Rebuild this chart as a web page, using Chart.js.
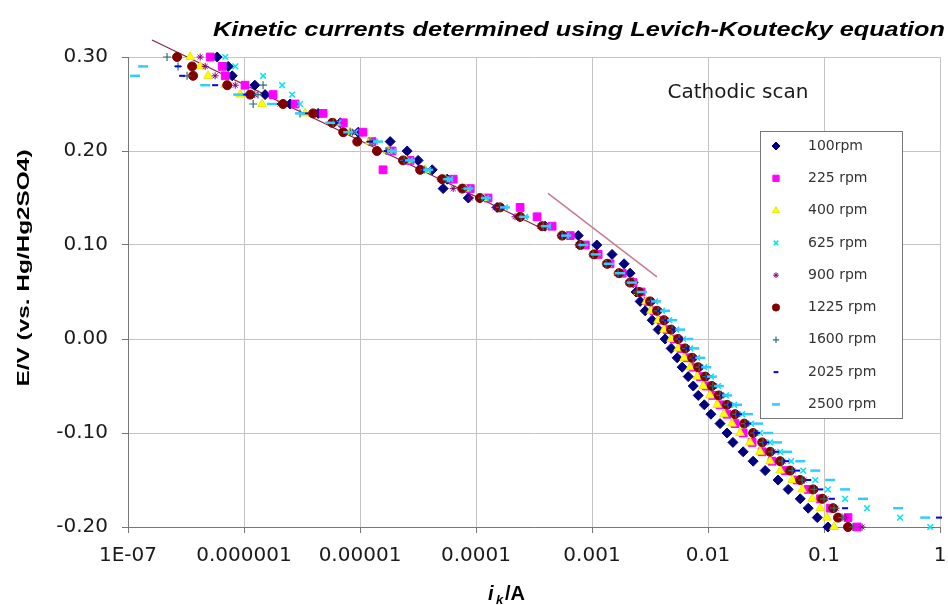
<!DOCTYPE html>
<html><head><meta charset="utf-8">
<script src="https://cdn.jsdelivr.net/npm/chart.js@4.4.1/dist/chart.umd.min.js"></script>
<style>html,body{margin:0;padding:0;background:#fff;}#wrap{width:948px;height:605px;}</style>
</head><body>
<div id="wrap"><canvas id="c" width="948" height="605" style="width:948px;height:605px"></canvas></div>
<script>
// ---- data ----
const potentials = [0.30,0.29,0.28,0.27,0.26,0.25,0.24,0.23,0.22,0.21,0.20,0.19,0.18,0.17,0.16,0.15,0.14,0.13,0.12,0.11,0.10,0.09,0.08,0.07,0.06,0.05,
  0.04,0.03,0.02,0.01,0.00,-0.01,-0.02,-0.03,-0.04,-0.05,-0.06,-0.07,-0.08,-0.09,-0.10,-0.11,-0.12,-0.13,-0.14,-0.15,-0.16,-0.17,-0.18,-0.19,-0.20];

const rpm100 = [5.87e-7,7.31e-7,7.92e-7,1.24e-6,1.52e-6,2.50e-6,4.36e-6,6.75e-6,9.66e-6,1.82e-5,2.55e-5,3.17e-5,4.19e-5,5.64e-5,5.21e-5,8.58e-5,1.52e-4,2.40e-4,3.94e-4,7.61e-4,1.10e-3,1.49e-3,1.89e-3,2.13e-3,2.26e-3,2.40e-3,
  2.60e-3,2.87e-3,3.30e-3,3.72e-3,4.27e-3,4.81e-3,5.42e-3,5.99e-3,6.75e-3,7.46e-3,8.24e-3,9.29e-3,1.06e-2,1.27e-2,1.46e-2,1.64e-2,2.01e-2,2.45e-2,3.11e-2,4.02e-2,4.91e-2,6.24e-2,7.31e-2,8.75e-2,1.08e-1];
const rpm225 = [5.11e-7,6.49e-7,6.89e-7,1.02e-6,1.78e-6,2.76e-6,4.81e-6,7.17e-6,1.06e-5,1.27e-5,1.89e-5,2.70e-5,1.58e-5,6.36e-5,8.92e-5,1.27e-4,2.40e-4,3.36e-4,4.53e-4,6.49e-4,8.75e-4,1.13e-3,1.43e-3,1.82e-3,2.26e-3,2.65e-3,
  3.04e-3,3.43e-3,3.94e-3,4.44e-3,5.11e-3,5.87e-3,6.62e-3,7.46e-3,8.58e-3,9.66e-3,1.10e-2,1.27e-2,1.46e-2,1.71e-2,2.01e-2,2.40e-2,2.93e-2,3.57e-2,4.63e-2,5.87e-2,7.31e-2,9.29e-2,1.13e-1,1.61e-1,1.93e-1];
const rpm400 = [3.43e-7,4.19e-7,4.91e-7,6.89e-7,9.29e-7,1.43e-6,3.36e-6,6.11e-6,8.24e-6,1.22e-5,1.74e-5,2.50e-5,3.64e-5,5.42e-5,8.08e-5,1.15e-4,1.61e-4,2.40e-4,3.79e-4,5.53e-4,7.92e-4,1.04e-3,1.35e-3,1.68e-3,2.13e-3,2.50e-3,
  2.93e-3,3.23e-3,3.72e-3,4.19e-3,4.81e-3,5.53e-3,6.24e-3,7.03e-3,8.08e-3,9.10e-3,1.04e-2,1.20e-2,1.37e-2,1.61e-2,1.89e-2,2.30e-2,2.81e-2,3.43e-2,4.19e-2,5.32e-2,6.49e-2,7.92e-2,9.29e-2,1.06e-1,1.22e-1];
const rpm625 = [6.89e-7,8.41e-7,1.46e-6,2.13e-6,2.60e-6,3.04e-6,3.87e-6,6.49e-6,9.10e-6,1.35e-5,1.93e-5,2.70e-5,3.87e-5,5.99e-5,8.58e-5,1.22e-4,1.78e-4,2.65e-4,4.19e-4,5.99e-4,8.24e-4,1.06e-3,1.40e-3,1.74e-3,2.21e-3,2.60e-3,
  3.50e-3,4.02e-3,4.63e-3,5.32e-3,6.11e-3,7.03e-3,8.08e-3,9.29e-3,1.06e-2,1.22e-2,1.43e-2,1.68e-2,1.97e-2,2.35e-2,2.81e-2,3.43e-2,4.19e-2,5.21e-2,6.62e-2,8.41e-2,1.08e-1,1.52e-1,2.35e-1,4.53e-1,8.24e-1];
const rpm900 = [4.19e-7,4.63e-7,5.64e-7,8.41e-7,1.24e-6,2.05e-6,3.87e-6,6.11e-6,8.58e-6,1.27e-5,1.74e-5,2.45e-5,3.43e-5,4.91e-5,6.36e-5,8.92e-5,1.46e-4,2.17e-4,3.57e-4,5.32e-4,7.61e-4,1.00e-3,1.30e-3,1.64e-3,2.05e-3,2.40e-3,
  3.30e-3,3.79e-3,4.36e-3,5.01e-3,5.76e-3,6.62e-3,7.61e-3,8.58e-3,9.86e-3,1.13e-2,1.30e-2,1.52e-2,1.78e-2,2.13e-2,2.55e-2,3.04e-2,3.64e-2,4.44e-2,5.42e-2,6.75e-2,8.41e-2,1.04e-1,1.27e-1,1.52e-1,2.13e-1];
const rpm1225 = [2.65e-7,3.57e-7,3.64e-7,7.17e-7,1.13e-6,2.17e-6,3.94e-6,5.76e-6,7.17e-6,9.47e-6,1.40e-5,2.35e-5,3.30e-5,5.11e-5,7.61e-5,1.08e-4,1.61e-4,2.40e-4,3.72e-4,5.53e-4,7.92e-4,1.04e-3,1.35e-3,1.71e-3,2.13e-3,2.55e-3,
  3.17e-3,3.64e-3,4.19e-3,4.81e-3,5.53e-3,6.36e-3,7.31e-3,8.24e-3,9.47e-3,1.08e-2,1.24e-2,1.46e-2,1.71e-2,2.05e-2,2.45e-2,2.93e-2,3.43e-2,4.19e-2,5.11e-2,6.24e-2,8.08e-2,9.66e-2,1.20e-1,1.32e-1,1.61e-1];
const rpm1600 = [2.17e-7,2.70e-7,3.23e-7,1.46e-6,1.32e-6,1.20e-6,3.04e-6,5.87e-6,8.24e-6,1.22e-5,1.68e-5,2.40e-5,3.57e-5,5.53e-5,8.08e-5,1.13e-4,1.61e-4,2.45e-4,3.79e-4,5.53e-4,7.92e-4,1.02e-3,1.32e-3,1.68e-3,2.09e-3,2.45e-3,
  3.23e-3,3.72e-3,4.27e-3,4.91e-3,5.64e-3,6.49e-3,7.46e-3,8.41e-3,9.66e-3,1.10e-2,1.27e-2,1.49e-2,1.74e-2,2.09e-2,2.50e-2,2.98e-2,3.57e-2,4.36e-2,5.32e-2,6.49e-2,8.24e-2,1.00e-1,1.22e-1,1.43e-1,1.78e-1];
const rpm2025 = [null,2.70e-7,2.93e-7,5.64e-7,1.02e-6,1.85e-6,3.36e-6,6.11e-6,8.24e-6,1.22e-5,1.71e-5,2.50e-5,3.64e-5,5.53e-5,8.24e-5,1.17e-4,1.68e-4,2.50e-4,3.87e-4,5.64e-4,8.08e-4,1.06e-3,1.37e-3,1.71e-3,2.17e-3,2.60e-3,
  3.36e-3,3.87e-3,4.44e-3,5.11e-3,5.87e-3,6.75e-3,7.76e-3,8.92e-3,1.02e-2,1.17e-2,1.35e-2,1.58e-2,1.85e-2,2.21e-2,2.65e-2,3.17e-2,3.87e-2,4.72e-2,5.87e-2,7.31e-2,9.29e-2,1.17e-1,1.52e-1,9.8e-1,null];
const rpm2500 = [null,1.35e-7,1.15e-7,4.63e-7,8.92e-7,1.74e-6,3.04e-6,5.53e-6,7.92e-6,1.43e-5,1.89e-5,2.70e-5,3.87e-5,5.76e-5,8.58e-5,1.22e-4,1.78e-4,2.60e-4,4.02e-4,5.99e-4,8.41e-4,1.08e-3,1.40e-3,1.74e-3,2.21e-3,2.70e-3,
  3.57e-3,4.27e-3,4.91e-3,5.76e-3,6.75e-3,7.61e-3,8.58e-3,9.66e-3,1.08e-2,1.24e-2,1.46e-2,1.78e-2,2.21e-2,2.70e-2,3.30e-2,3.94e-2,4.81e-2,6.24e-2,8.41e-2,1.13e-1,1.52e-1,2.17e-1,4.36e-1,7.46e-1,null];

const seriesLabels = ['100rpm','225 rpm','400 rpm','625 rpm','900 rpm','1225 rpm','1600 rpm','2025 rpm','2500 rpm'];
const seriesValues = [rpm100,rpm225,rpm400,rpm625,rpm900,rpm1225,rpm1600,rpm2025,rpm2500];

// Tafel fit lines (end points: current / A, potential / V)
const tafelLowCurrent = [1.61e-7, 3.94e-4];
const tafelLowPotential = [0.318, 0.116];
const tafelHighCurrent = [4.18e-4, 3.63e-3];
const tafelHighPotential = [0.155, 0.066];

const xTickValues = [1e-7,1e-6,1e-5,1e-4,1e-3,1e-2,1e-1,1];
const xTickLabels = ['1E-07','0.000001','0.00001','0.0001','0.001','0.01','0.1','1'];
const yTickValues = [-0.2,-0.1,0,0.1,0.2,0.3];
const yTickLabels = ['-0.20','-0.10','0.00','0.10','0.20','0.30'];

const chartTitle = 'Kinetic currents determined using Levich-Koutecky equation';
const yTitle = 'E/V (vs. Hg/Hg2SO4)';
const annotationText = 'Cathodic scan';

// ---- styles ----
const seriesStyles = [
  {shape:'rectRot', fill:'#000080', line:'#000080', r:5, bw:1},
  {shape:'rect', fill:'#FF00FF', line:'#FF00FF', r:5.5, bw:1},
  {shape:'triangle', fill:'#FFFF00', line:'#E8E800', r:5, bw:1},
  {shape:'crossRot', fill:'#00FFFF', line:'#00E5F0', r:4, bw:1.5},
  {shape:'star', fill:'#800080', line:'#800080', r:3.5, bw:1},
  {shape:'circle', fill:'#800000', line:'#800000', r:4.5, bw:1},
  {shape:'cross', fill:'#008080', line:'#2F6F6F', r:4, bw:1.2},
  {shape:'line', fill:'#0000FF', line:'#0000FF', r:3, bw:2},
  {shape:'line', fill:'#33CCFF', line:'#33CCFF', r:5, bw:2.5}
];

const datasets = seriesValues.map((vals, i) => {
  const st = seriesStyles[i];
  const pts = [];
  potentials.forEach((E, j) => { if (vals[j] !== null) pts.push({x: vals[j], y: E}); });
  return {
    label: seriesLabels[i], data: pts, showLine: false,
    pointStyle: st.shape, pointRadius: st.r, pointBorderWidth: st.bw,
    backgroundColor: st.fill, borderColor: st.line,
    pointBackgroundColor: st.fill, pointBorderColor: st.line,
    clip: false, order: 20 - i
  };
});
datasets.push({
  label: 'tafel-low', data: tafelLowCurrent.map((c,k)=>({x:c, y:tafelLowPotential[k]})),
  showLine: true, pointRadius: 0, borderColor: '#8B1E3F', borderWidth: 1.2, clip: false, order: 30
});
datasets.push({
  label: 'tafel-high', data: tafelHighCurrent.map((c,k)=>({x:c, y:tafelHighPotential[k]})),
  showLine: true, pointRadius: 0, borderColor: '#C97A90', borderWidth: 1.5, clip: false, order: 0
});

function drawShape(ctx, st, x, y, r) {
  ctx.fillStyle = st.fill; ctx.strokeStyle = st.line; ctx.lineWidth = st.bw;
  if (Chart.helpers && Chart.helpers.drawPoint) {
    Chart.helpers.drawPoint(ctx, {pointStyle: st.shape, radius: r, rotation: 0, borderWidth: st.bw}, x, y);
  } else {
    ctx.fillRect(x - r/1.5, y - r/1.5, r*1.33, r*1.33);
  }
}

const decorPlugin = {
  id: 'decor',
  afterDraw(chart) {
    const ctx = chart.ctx;
    ctx.save();
    // title
    ctx.fillStyle = '#000';
    ctx.font = 'italic bold 21px "Liberation Sans", Arial, sans-serif';
    ctx.textBaseline = 'alphabetic'; ctx.textAlign = 'left';
    let w = ctx.measureText(chartTitle).width;
    ctx.save(); ctx.translate(213, 36); ctx.scale(732 / w, 1); ctx.fillText(chartTitle, 0, 0); ctx.restore();
    // y title
    ctx.font = 'bold 17px "Liberation Sans", Arial, sans-serif';
    ctx.textBaseline = 'middle';
    w = ctx.measureText(yTitle).width;
    ctx.save(); ctx.translate(24, 268); ctx.rotate(-Math.PI/2); ctx.scale(237 / w, 1); ctx.fillText(yTitle, -w/2, 0); ctx.restore();
    // x title  i_k /A
    ctx.textBaseline = 'alphabetic';
    ctx.font = 'italic bold 20px "Liberation Sans", Arial, sans-serif';
    ctx.fillText('i', 488, 600);
    ctx.font = 'italic bold 13px "Liberation Sans", Arial, sans-serif';
    ctx.fillText('k', 496, 604);
    ctx.font = 'bold 20px "Liberation Sans", Arial, sans-serif';
    ctx.fillText('/A', 505, 600);
    // annotation
    ctx.fillStyle = '#1a1a1a';
    ctx.font = '20px "DejaVu Sans", sans-serif';
    ctx.textAlign = 'center'; ctx.textBaseline = 'middle';
    ctx.fillText(annotationText, 738, 93);
    // legend box
    const lx = 760.5, ly = 131.5, lw = 142, lh = 287;
    ctx.fillStyle = '#fff'; ctx.fillRect(lx, ly, lw, lh);
    ctx.strokeStyle = '#777'; ctx.lineWidth = 1; ctx.strokeRect(lx, ly, lw, lh);
    seriesLabels.forEach((lab, i) => {
      const y = 146 + i * 32.3;
      drawShape(ctx, seriesStyles[i], 776, y, seriesStyles[i].r * 0.8);
      ctx.fillStyle = '#333';
      ctx.font = '14px "DejaVu Sans", sans-serif';
      ctx.textAlign = 'left'; ctx.textBaseline = 'middle';
      ctx.fillText(lab, 808, y);
    });
    ctx.restore();
  }
};

const tickFont = {family: "'DejaVu Sans', sans-serif", size: 20};
new Chart(document.getElementById('c'), {
  type: 'scatter',
  data: {datasets},
  options: {
    responsive: false, animation: false, events: [],
    layout: {padding: {top: 57, right: 8, left: 0, bottom: 0}},
    plugins: {legend: {display: false}, tooltip: {enabled: false}, title: {display: false}},
    scales: {
      x: {
        type: 'logarithmic', position: 'bottom', min: 1e-7, max: 1,
        afterBuildTicks: s => { s.ticks = xTickValues.map(v => ({value: v})); },
        afterFit: s => { s.height = 78; s.paddingLeft = 0; s.paddingRight = 0; },
        ticks: {autoSkip: false, maxRotation: 0, minRotation: 0, font: tickFont, color: '#1a1a1a', padding: 11,
                callback: (v, idx) => xTickLabels[idx]},
        grid: {color: '#c4c4c4', lineWidth: 1, tickColor: '#777', tickLength: 6},
        border: {color: '#777', width: 1}
      },
      y: {
        min: -0.2, max: 0.3,
        afterBuildTicks: s => { s.ticks = yTickValues.map(v => ({value: v})); },
        afterFit: s => { s.width = 128; s.paddingTop = 0; s.paddingBottom = 0; },
        ticks: {font: tickFont, color: '#1a1a1a', padding: 14, callback: (v, idx) => yTickLabels[idx]},
        grid: {color: '#c4c4c4', lineWidth: 1, tickColor: '#777', tickLength: 6},
        border: {color: '#777', width: 1}
      }
    }
  },
  plugins: [decorPlugin]
});
</script>
</body></html>
